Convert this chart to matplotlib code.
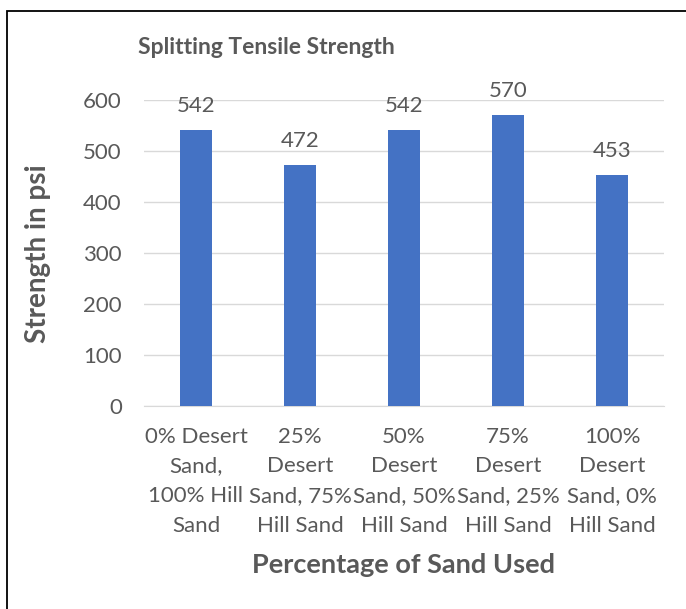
import matplotlib.pyplot as plt
from matplotlib.patches import Rectangle

# Dades llegides del gràfic
categories = [
    "0% Desert\nSand,\n100% Hill\nSand",
    "25%\nDesert\nSand, 75%\nHill Sand",
    "50%\nDesert\nSand, 50%\nHill Sand",
    "75%\nDesert\nSand, 25%\nHill Sand",
    "100%\nDesert\nSand, 0%\nHill Sand",
]
strength = [542, 472, 542, 570, 453]
yticks = [0, 100, 200, 300, 400, 500, 600]

text_color = "#595959"
bar_color = "#4472C4"
plt.rcParams["font.family"] = ["Lato", "DejaVu Sans"]

W, H = 686, 609
fig = plt.figure(figsize=(W / 100, H / 100), dpi=100)

# Zona de dibuix: x 144..664, y 100 (600) .. 406 (0)
ax = fig.add_axes([144 / W, 1 - 406 / H, 520 / W, 306 / H])
x = range(len(categories))
bars = ax.bar(x, strength, width=0.31, color=bar_color, zorder=3)

ax.set_xlim(-0.5, len(categories) - 0.5)
ax.set_ylim(0, 600)
ax.set_yticks(yticks)
ax.set_xticks(list(x))
ax.set_xticklabels(categories, linespacing=1.6)
ax.tick_params(axis="both", length=0, labelsize=16, colors=text_color)
ax.tick_params(axis="x", pad=15)
ax.tick_params(axis="y", pad=16)
ax.grid(axis="y", color="#d9d9d9", linewidth=1, zorder=0)
for s in ["top", "right", "left"]:
    ax.spines[s].set_visible(False)
ax.spines["bottom"].set_color("#d9d9d9")

# Etiquetes de dades sobre les barres
for b, v in zip(bars, strength):
    ax.annotate(str(v), (b.get_x() + b.get_width() / 2, v), xytext=(0, 10),
                textcoords="offset points", ha="center", va="bottom",
                fontsize=16, color=text_color)

fig.text(266 / W, 1 - 48 / H, "Splitting Tensile Strength", ha="center", va="center",
         fontsize=16.5, fontweight="bold", color=text_color)
fig.text(404 / W, 1 - 565 / H, "Percentage of Sand Used", ha="center", va="center",
         fontsize=19.5, fontweight="bold", color=text_color)
fig.text(38 / W, 1 - 254 / H, "Strength in psi", ha="center", va="center", rotation=90,
         fontsize=20, fontweight="bold", color=text_color)

# Vora del gràfic (només es veuen el costat esquerre i el superior)
fig.patches.append(Rectangle((6.5 / W, -0.05), 1.1, 1 - 10.5 / H + 0.05,
                             transform=fig.transFigure, fill=False,
                             edgecolor="black", linewidth=1.3))

fig.savefig("out.png", dpi=100)
